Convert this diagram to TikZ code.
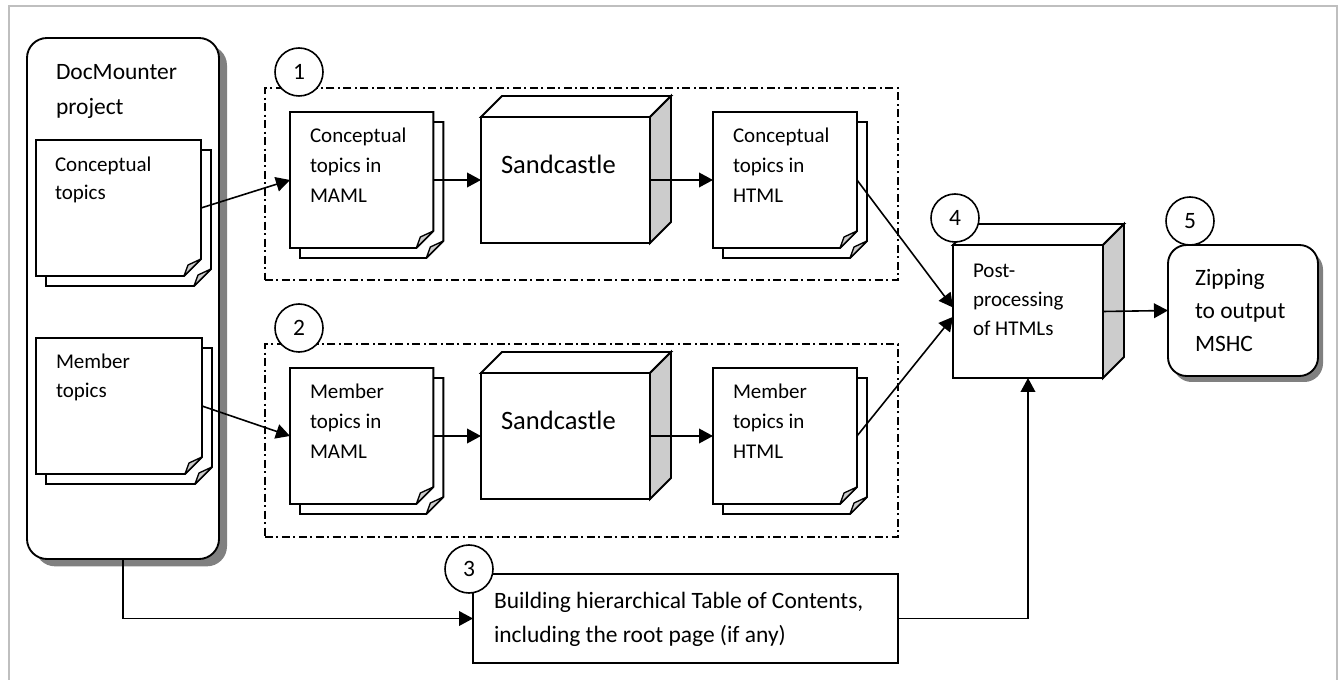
\documentclass[tikz,border=0pt]{standalone}
\usepackage{fontspec}
\setmainfont{Carlito}
\usetikzlibrary{arrows.meta,calc,shadows}
\newcommand\docpage[2]{%
  \path[page] ([shift={(#2,#2)}]#1.north west) -- ([shift={(#2,#2)}]#1.north east)
    -- ([shift={(#2,#2-17)}]#1.south east) -- ([shift={(#2-17,#2)}]#1.south east)
    -- ([shift={(#2,#2)}]#1.south west) -- cycle;
  \path[fold] ([shift={(#2-17,#2)}]#1.south east) -- ([shift={(#2-13,#2-11)}]#1.south east)
    -- ([shift={(#2,#2-17)}]#1.south east) -- cycle;}
\newcommand\docstack[1]{\docpage{#1}{10}\docpage{#1}{0}}
\newcommand\cubefaces[2]{%
  \path[cubetop] (#1.north west) -- ([shift={(#2,-#2)}]#1.north west)
    -- ([shift={(#2,-#2)}]#1.north east) -- (#1.north east) -- cycle;
  \path[cubeside] (#1.north east) -- ([shift={(#2,-#2)}]#1.north east)
    -- ([shift={(#2,-#2)}]#1.south east) -- (#1.south east) -- cycle;}
\begin{document}
\begin{tikzpicture}[x=0.75pt,y=-0.75pt,
  lw/.style={line width=1.4pt, line join=miter},
  page/.style={lw, draw=black, fill=white},
  fold/.style={line width=1pt, draw=black, fill=black!20, line join=round},
  cubetop/.style={lw, draw=black, fill=white},
  cubeside/.style={lw, draw=black, fill=black!20},
  docn/.style={rectangle, anchor=north west, inner sep=0pt, outer sep=0pt, minimum height=102pt},
  cubefront/.style={rectangle, anchor=north west, inner sep=0pt, outer sep=0pt, lw, draw=black, fill=white},
  dbox/.style={rectangle, anchor=north west, inner sep=0pt, outer sep=0pt, draw=black, line width=1pt,
    dash pattern=on 6pt off 2.6pt on 1.5pt off 2.6pt},
  plainbox/.style={rectangle, anchor=north west, inner sep=0pt, outer sep=0pt, lw, draw=black, fill=white},
  numc/.style={circle, draw=black, line width=1.2pt, fill=white, minimum size=36pt, inner sep=0pt,
    font=\fontsize{17.6pt}{20pt}\selectfont},
  arr/.style={line width=1.2pt, -{Triangle[length=10.5pt,width=11pt]}},
  txt/.style={anchor=base west, inner sep=0pt, outer sep=0pt, align=left},
  fa/.style={font=\fontsize{15.75pt}{#1}\selectfont},
  fb/.style={font=\fontsize{17.6pt}{#1}\selectfont}
]
\useasboundingbox (0,0) rectangle (1341,680);
\draw[black!25, line width=1.5pt] (9,690) -- (9,6) -- (1337,6) -- (1337,690);

% group frames
\node[dbox, minimum width=474.75pt, minimum height=144pt] (grp1) at (265,88) {};
\node[dbox, minimum width=474.75pt, minimum height=144.75pt] (grp2) at (265,344) {};

% DocMounter project container
\node[plainbox, rounded corners=15pt, minimum width=144pt, minimum height=390.75pt,
  drop shadow={shadow xshift=6pt, shadow yshift=-5.5pt, fill=black!50, opacity=1}] (dm) at (27,38) {};

% document stacks
\node[docn, minimum width=123.75pt] (cdoc) at (36,140) {};
\docstack{cdoc}
\node[docn, minimum width=124.5pt] (mdoc) at (36,338) {};
\docstack{mdoc}
\node[docn, minimum width=107.5pt] (cmaml) at (290,112) {};
\docstack{cmaml}
\node[docn, minimum width=107.5pt] (mmaml) at (290,368) {};
\docstack{mmaml}
\node[docn, minimum width=108pt] (chtml) at (713,112) {};
\docstack{chtml}
\node[docn, minimum width=108pt] (mhtml) at (713,368) {};
\docstack{mhtml}

% cubes
\node[cubefront, minimum width=126.75pt, minimum height=94.5pt] (sand1) at (481,117) {};
\cubefaces{sand1}{21}
\node[cubefront, minimum width=126.75pt, minimum height=94.5pt] (sand2) at (481,373) {};
\cubefaces{sand2}{21}
\node[cubefront, minimum width=112.5pt, minimum height=99.75pt] (post) at (953,245) {};
\cubefaces{post}{21}

% zipping
\node[plainbox, rounded corners=14pt, minimum width=112.5pt, minimum height=98.25pt,
  drop shadow={shadow xshift=3.75pt, shadow yshift=-4.5pt, fill=black!50, opacity=1}] (zip) at (1168,245) {};

% building TOC
\node[plainbox, minimum width=318.75pt, minimum height=66.75pt] (build) at (473,574) {};

% connectors
\draw[arr] (cdoc.east) -- (cmaml.west);
\draw[arr] (mdoc.east) -- (mmaml.west);
\draw[arr] (cmaml.east) -- (sand1.west);
\draw[arr] (mmaml.east) -- (sand2.west);
\draw[arr] (sand1.east) -- (chtml.west);
\draw[arr] (sand2.east) -- (mhtml.west);
\draw[arr] (chtml.east) -- ([yshift=3pt]post.west);
\draw[arr] (mhtml.east) -- ([yshift=-4pt]post.west);
\draw[arr] (post.east) -- (zip.west);
\draw[arr] (dm.south) |- (build.west);
\draw[arr] (build.east) -| (post.south);

% number circles
\node[numc] (n1) at (299,72) {1};
\node[numc] (n2) at (299,328) {2};
\node[numc] (n3) at (469,569) {3};
\node[numc] (n4) at (955,218) {4};
\node[numc] (n5) at (1190,221) {5};

% texts (anchored at the baseline of the last line)
\node[txt, fb=26.25pt] (tdm) at (56,115) {DocMounter\\project};
\node[txt, fa=21pt] (tcdoc) at (55,200) {Conceptual\\topics};
\node[txt, fa=22pt] (tmdoc) at (56,398) {Member\\topics};
\node[txt, fa=22.5pt] (tcmaml) at (310,203) {Conceptual\\topics in\\MAML};
\node[txt, fa=22.5pt] (tmmaml) at (310,459) {Member\\topics in\\MAML};
\node[txt, fa=22.5pt] (tchtml) at (733,203) {Conceptual\\topics in\\HTML};
\node[txt, fa=22.5pt] (tmhtml) at (733,459) {Member\\topics in\\HTML};
\node[txt, font=\fontsize{19.9pt}{24pt}\selectfont] (tsand1) at (501,174) {Sandcastle};
\node[txt, font=\fontsize{19.9pt}{24pt}\selectfont] (tsand2) at (501,430) {Sandcastle};
\node[txt, fa=22pt] (tpost) at (973,336) {Post-\\processing\\of HTMLs};
\node[txt, fb=24.75pt] (tzip) at (1195,352) {Zipping\\to output\\MSHC};
\node[txt, fb=25.5pt] (tbuild) at (494,642) {Building hierarchical Table of Contents,\\including the root page (if any)};
\end{tikzpicture}
\end{document}
